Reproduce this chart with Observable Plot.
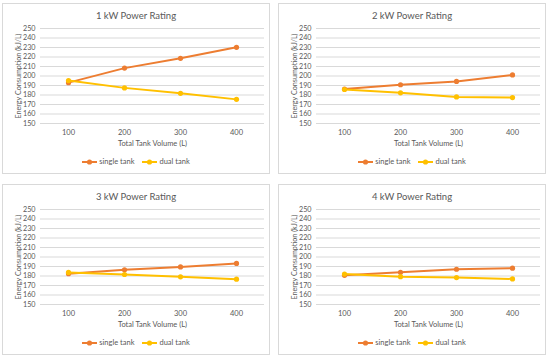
<!DOCTYPE html>
<html>
<head>
<meta charset="utf-8">
<script src="https://cdn.jsdelivr.net/npm/d3@7"></script>
<script src="https://cdn.jsdelivr.net/npm/@observablehq/plot@0.6"></script>
<style>
  html, body { margin: 0; padding: 0; background: #fff; }
  body { width: 550px; height: 357px; position: relative; overflow: hidden; font-family: Lato, "Open Sans", sans-serif; color: #595959; }
  .panel { position: absolute; width: 266px; height: 169px; border: 1px solid #d9d9d9; background: #fff; }
  .panel > svg { position: absolute; left: 0; top: 0; }
  .title { position: absolute; left: 0; right: 0; top: 6px; text-align: center; font-size: 9.5px; }
  .legend { position: absolute; left: 0; right: 0; top: 154px; display: flex; justify-content: center; gap: 8px; font-size: 7.5px; align-items: center; line-height: 8px; }
  .legend .item { display: inline-flex; align-items: center; gap: 2px; }
  .legend .item svg { display: block; }
</style>
</head>
<body>
<script>
const volumes = [100, 200, 300, 400];
const panelTitles = ["1 kW Power Rating", "2 kW Power Rating", "3 kW Power Rating", "4 kW Power Rating"];
const seriesNames = ["single tank", "dual tank"];
const seriesColors = ["#ED7D31", "#FFC000"];
const singleTank = [
  [193.0, 208.3, 218.6, 230.2],
  [186.2, 190.8, 194.3, 201.1],
  [182.4, 186.5, 189.6, 193.2],
  [180.7, 183.9, 187.1, 188.2]
];
const dualTank = [
  [195.2, 187.5, 181.8, 175.4],
  [185.8, 182.3, 178.0, 177.3],
  [183.8, 181.6, 179.1, 176.7],
  [182.0, 179.3, 178.3, 176.9]
];
const yTicks = [150, 160, 170, 180, 190, 200, 210, 220, 230, 240, 250];
const xLabel = "Total Tank Volume (L)";
const yLabel = "Energy Consumption (kJ/L)";

const panelPos = [[2, 3], [278, 3], [2, 184], [278, 184]];

panelTitles.forEach((title, i) => {
  const rows = [];
  volumes.forEach((v, j) => {
    rows.push({volume: v, value: singleTank[i][j], series: seriesNames[0]});
  });
  volumes.forEach((v, j) => {
    rows.push({volume: v, value: dualTank[i][j], series: seriesNames[1]});
  });
  const panel = document.createElement("div");
  panel.className = "panel";
  panel.style.left = panelPos[i][0] + "px";
  panel.style.top = panelPos[i][1] + "px";

  const chart = Plot.plot({
    width: 266, height: 169,
    marginLeft: 37, marginRight: 5, marginTop: 24, marginBottom: 50,
    style: {fontFamily: "Lato, 'Open Sans', sans-serif", fontSize: "7px", color: "#595959", background: "transparent", overflow: "visible"},
    x: {type: "point", domain: volumes, padding: 0.5},
    y: {domain: [150, 250]},
    color: {domain: seriesNames, range: seriesColors},
    marks: [
      Plot.gridY(yTicks, {stroke: "#d9d9d9", strokeOpacity: 1}),
      Plot.axisX({tickSize: 0, tickPadding: 6, label: xLabel, labelAnchor: "center", labelOffset: 22, fontSize: 7.5}),
      Plot.axisY({ticks: yTicks, tickSize: 0, tickPadding: 5, label: yLabel, labelAnchor: "center", labelOffset: 25, labelArrow: "none", fontSize: 7.2}),
      Plot.lineY(rows, {x: "volume", y: "value", z: "series", stroke: "series", strokeWidth: 2}),
      Plot.dot(rows, {x: "volume", y: "value", fill: "series", r: 2.6})
    ]
  });
  panel.appendChild(chart);

  const t = document.createElement("div");
  t.className = "title";
  t.textContent = title;
  panel.appendChild(t);

  const lg = document.createElement("div");
  lg.className = "legend";
  seriesNames.forEach((name, k) => {
    const s = document.createElement("span");
    s.className = "item";
    s.innerHTML = `<svg width="15" height="6"><line x1="0" y1="3" x2="15" y2="3" stroke="${seriesColors[k]}" stroke-width="2"/><circle cx="7.5" cy="3" r="2.6" fill="${seriesColors[k]}"/></svg>`;
    const lab = document.createElement("span");
    lab.textContent = name;
    s.appendChild(lab);
    lg.appendChild(s);
  });
  panel.appendChild(lg);

  document.body.appendChild(panel);
});
</script>
</body>
</html>
